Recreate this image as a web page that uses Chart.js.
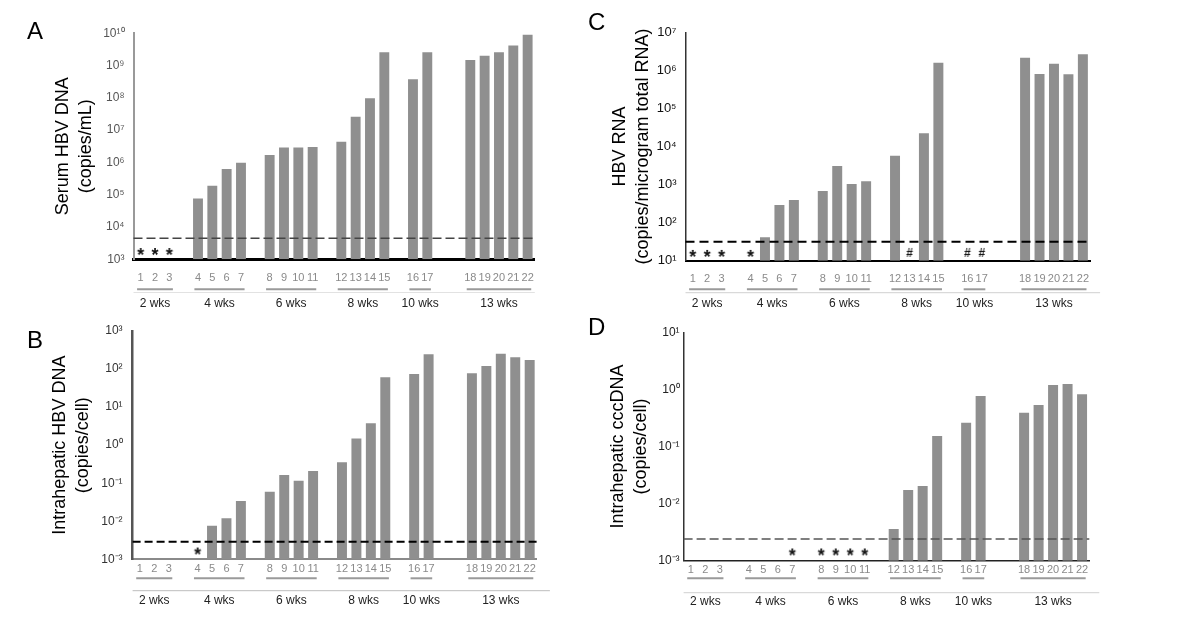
<!DOCTYPE html>
<html lang="en">
<head>
  <meta charset="UTF-8">
  <title>HBV markers by week</title>
  <script src="https://cdn.jsdelivr.net/npm/chart.js"></script>
  <style>
    body {
      margin: 0;
      background: #fff;
      font-family: 'Liberation Sans', Arial, sans-serif;
    }

    #fig {
      position: relative;
      width: 1200px;
      height: 627px;
      overflow: hidden;
    }

    canvas {
      position: absolute;
    }

    .tag {
      position: absolute;
      font-size: 24px;
      line-height: 24px;
      color: #000;
    }
  </style>
</head>
<body>
  <div id="fig">
    <canvas id="chartA" width="590" height="313" style="left:0;top:0"></canvas>
    <canvas id="chartB" width="590" height="314" style="left:0;top:313px"></canvas>
    <canvas id="chartC" width="610" height="313" style="left:590px;top:0"></canvas>
    <canvas id="chartD" width="610" height="314" style="left:590px;top:313px"></canvas>
    <div class="tag" style="left:27px;top:19px">A</div>
    <div class="tag" style="left:27px;top:328px">B</div>
    <div class="tag" style="left:588px;top:10px">C</div>
    <div class="tag" style="left:588px;top:315px">D</div>
  </div>

  <script>
    // x slots: samples 1-22, blank slots separate the weeks
    const slotLabels = ['1', '2', '3', '', '4', '5', '6', '7', '', '8', '9', '10', '11', '',
      '12', '13', '14', '15', '', '16', '17', '', '', '18', '19', '20', '21', '22'];

    const weekLabels = ['2 wks', '4 wks', '6 wks', '8 wks', '10 wks', '13 wks'];
    const weekFirst = ['1', '4', '8', '12', '16', '18'];
    const weekLast = ['3', '7', '11', '15', '17', '22'];

    // values per sample 1..22 (null = not detected)
    const serumDNA = [null, null, null, 7.7e4, 1.9e5, 6.3e5, 9.8e5, 1.7e6, 2.9e6, 2.9e6, 3.0e6,
      4.4e6, 2.6e7, 9.7e7, 2.6e9, 3.75e8, 2.6e9, 1.5e9, 2.0e9, 2.6e9, 4.2e9, 9.0e9];
    const liverDNA = [null, null, null, null, 0.0076, 0.012, 0.034, 0.06, 0.164, 0.116, 0.21,
      0.354, 1.5, 3.75, 61, 74, 244, 77, 120, 253, 204, 173];
    const hbvRNA = [null, null, null, null, 41, 290, 393, 678, 3080, 1035, 1220,
      5730, null, 22200, 1.59e6, null, null, 2.15e6, 8.0e5, 1.5e6, 7.9e5, 2.64e6];
    const cccDNA = [null, null, null, null, null, null, null, null, null, null, null,
      0.0036, 0.0173, 0.0203, 0.153, 0.261, 0.766, 0.391, 0.533, 1.19, 1.24, 0.82];

    // detection limits (dashed lines)
    const lodSerum = 4.5e3;
    const lodLiver = 0.0029;
    const lodRNA = 31.6;
    const lodCcc = 0.0024;

    // marks below the detection limit: * and #
    const starSamplesA = ['1', '2', '3'];
    const starSamplesB = ['4'];
    const starSamplesC = ['1', '2', '3', '4'];
    const hashSamplesC = ['13', '16', '17'];
    const starSamplesD = ['7', '8', '9', '10', '11'];
    const markLevelA = 1.8e3;
    const markLevelB = 1.7e-3;
    const markLevelC = 16;
    const markLevelD = 1.45e-3;

    // y tick values and labels
    const ticksA = [1e3, 1e4, 1e5, 1e6, 1e7, 1e8, 1e9, 1e10];
    const tickLabelsA = ['10³', '10⁴', '10⁵', '10⁶', '10⁷', '10⁸', '10⁹', '10¹⁰'];
    const ticksB = [1e-3, 1e-2, 1e-1, 1, 10, 100, 1000];
    const tickLabelsB = ['10⁻³', '10⁻²', '10⁻¹', '10⁰', '10¹', '10²', '10³'];
    const ticksC = [10, 100, 1e3, 1e4, 1e5, 1e6, 1e7];
    const tickLabelsC = ['10¹', '10²', '10³', '10⁴', '10⁵', '10⁶', '10⁷'];
    const ticksD = [1e-3, 1e-2, 1e-1, 1, 10];
    const tickLabelsD = ['10⁻³', '10⁻²', '10⁻¹', '10⁰', '10¹'];

    const barColor = '#8f8f8f';
    Chart.defaults.font.family = "'Liberation Sans', Arial, sans-serif";

    const toSlots = values => {
      let k = 0;
      return slotLabels.map(l => (l === '' ? null : values[k++]));
    };
    const markSlots = (samples, level) => slotLabels.map(l => (samples.includes(l) ? level : null));

    function glyph(ch, font, size, baseY) {
      const c = document.createElement('canvas');
      c.width = size;
      c.height = size;
      const g = c.getContext('2d');
      g.font = font;
      g.fillStyle = '#111';
      g.textAlign = 'center';
      g.fillText(ch, size / 2, baseY);
      return c;
    }
    const starGlyph = glyph('*', "bold 18px 'Liberation Sans'", 14, 17);
    const hashGlyph = glyph('#', "bold 12px 'Liberation Sans'", 14, 11);

    // dashed limit line + week brackets under the axis
    const weeksPlugin = {
      id: 'weeks',
      afterDatasetsDraw(chart, args, o) {
        const { ctx, chartArea, scales: { y } } = chart;
        const py = y.getPixelForValue(o.lod);
        ctx.save();
        ctx.strokeStyle = o.lodColor;
        ctx.lineWidth = o.lodWidth;
        ctx.setLineDash(o.lodDash);
        ctx.beginPath();
        ctx.moveTo(chartArea.left, py);
        ctx.lineTo(chartArea.right + o.lodExt, py);
        ctx.stroke();
        ctx.restore();
      },
      afterDraw(chart, args, o) {
        const { ctx, chartArea, scales: { x } } = chart;
        const slot = (chartArea.right - chartArea.left) / slotLabels.length;
        ctx.save();
        ctx.strokeStyle = o.lineColor;
        ctx.lineWidth = 1;
        ctx.beginPath();
        ctx.moveTo(chartArea.left, o.lineY);
        ctx.lineTo(chartArea.right + o.lineExt, o.lineY);
        ctx.stroke();

        ctx.font = "12px 'Liberation Sans'";
        ctx.fillStyle = '#222';
        ctx.textAlign = 'center';
        ctx.textBaseline = 'middle';
        weekLabels.forEach((w, i) => {
          const x0 = x.getPixelForValue(slotLabels.indexOf(weekFirst[i])) - slot * 0.25;
          const x1 = x.getPixelForValue(slotLabels.indexOf(weekLast[i])) + slot * 0.25;
          ctx.strokeStyle = '#9a9a9a';
          ctx.lineWidth = 2;
          ctx.beginPath();
          ctx.moveTo(x0, o.segY);
          ctx.lineTo(x1, o.segY);
          ctx.stroke();
          ctx.fillText(w, (x0 + x1) / 2, o.labelY);
        });
        ctx.restore();
      }
    };

    function makePanel(id, p) {
      return new Chart(document.getElementById(id), {
        type: 'bar',
        data: {
          labels: slotLabels,
          datasets: [
            {
              data: toSlots(p.values),
              backgroundColor: barColor,
              barPercentage: 0.69,
              categoryPercentage: 1,
              order: 2
            },
            {
              type: 'line',
              data: markSlots(p.stars, p.markLevel),
              showLine: false,
              pointStyle: starGlyph,
              order: 1
            },
            {
              type: 'line',
              data: markSlots(p.hashes, p.markLevel),
              showLine: false,
              pointStyle: hashGlyph,
              order: 1
            }
          ]
        },
        options: {
          responsive: false,
          animation: false,
          events: [],
          devicePixelRatio: 1,
          layout: { padding: { left: 0, top: p.padTop, right: p.padRight, bottom: 0 } },
          plugins: {
            legend: { display: false },
            tooltip: { enabled: false },
            weeks: p.weeks
          },
          scales: {
            x: {
              z: 1,
              grid: { display: false, drawTicks: false },
              border: { display: true, color: p.baseColor, width: p.baseWidth },
              ticks: {
                autoSkip: false,
                maxRotation: 0,
                padding: p.xPad,
                color: '#8a8a8a',
                font: { size: 11 }
              },
              afterFit: s => { s.height = p.xHeight; }
            },
            y: {
              type: 'logarithmic',
              min: p.ticks[0],
              max: p.ticks[p.ticks.length - 1],
              grid: { display: false, drawTicks: false },
              border: { display: true, color: p.axisColor, width: p.axisWidth },
              afterBuildTicks: s => { s.ticks = p.ticks.map(v => ({ value: v })); },
              ticks: {
                padding: p.yPad,
                color: p.tickColor,
                font: { size: p.tickSize },
                callback: (v, i) => p.tickLabels[i]
              },
              title: {
                display: true,
                text: p.title,
                color: '#000',
                font: { size: 18, lineHeight: 1.25 },
                padding: { top: p.titlePad, bottom: 0 }
              },
              afterFit: s => { s.width = p.yWidth; }
            }
          }
        },
        plugins: [weeksPlugin]
      });
    }

    makePanel('chartA', {
      values: serumDNA, stars: starSamplesA, hashes: [], markLevel: markLevelA,
      ticks: ticksA, tickLabels: tickLabelsA, tickColor: '#555', tickSize: 12,
      title: ['Serum HBV DNA', '(copies/mL)'], titlePad: 52,
      yWidth: 133.5, xHeight: 53.7, padTop: 33.3, padRight: 55.2, xPad: 12, yPad: 9,
      baseColor: '#000', baseWidth: 3, axisColor: '#999', axisWidth: 2,
      weeks: { lod: lodSerum, lodColor: '#444', lodWidth: 1.5, lodDash: [9, 4], lodExt: 0,
        segY: 289.3, lineY: 292.5, lineColor: '#e2e2e2', lineExt: 0, labelY: 303.3 }
    });

    makePanel('chartB', {
      values: liverDNA, stars: starSamplesB, hashes: [], markLevel: markLevelB,
      ticks: ticksB, tickLabels: tickLabelsB, tickColor: '#333', tickSize: 12,
      title: ['Intrahepatic HBV DNA', '(copies/cell)'], titlePad: 49,
      yWidth: 132.6, xHeight: 67.7, padTop: 18, padRight: 53.1, xPad: 3, yPad: 10,
      baseColor: '#8a8a8a', baseWidth: 2, axisColor: '#555', axisWidth: 2.5,
      weeks: { lod: lodLiver, lodColor: '#000', lodWidth: 2, lodDash: [8, 4], lodExt: 0,
        segY: 265.3, lineY: 277.7, lineColor: '#bdbdbd', lineExt: 13, labelY: 288 }
    });

    makePanel('chartC', {
      values: hbvRNA, stars: starSamplesC, hashes: hashSamplesC, markLevel: markLevelC,
      ticks: ticksC, tickLabels: tickLabelsC, tickColor: '#111', tickSize: 13,
      title: ['HBV RNA', '(copies/microgram total RNA)'], titlePad: 18.8,
      yWidth: 95.5, xHeight: 52.3, padTop: 32.3, padRight: 109.9, xPad: 12, yPad: 9,
      baseColor: '#000', baseWidth: 2, axisColor: '#333', axisWidth: 1.5,
      weeks: { lod: lodRNA, lodColor: '#000', lodWidth: 2, lodDash: [9, 5], lodExt: 0,
        segY: 289.3, lineY: 292.7, lineColor: '#d0d0d0', lineExt: 10, labelY: 303.3 }
    });

    makePanel('chartD', {
      values: cccDNA, stars: starSamplesD, hashes: [], markLevel: markLevelD,
      ticks: ticksD, tickLabels: tickLabelsD, tickColor: '#222', tickSize: 12,
      title: ['Intrahepatic cccDNA', '(copies/cell)'], titlePad: 16.8,
      yWidth: 93.6, xHeight: 66.3, padTop: 19.3, padRight: 110.7, xPad: 2.6, yPad: 4,
      baseColor: '#222', baseWidth: 1.5, axisColor: '#333', axisWidth: 1.5,
      weeks: { lod: lodCcc, lodColor: '#555', lodWidth: 1.5, lodDash: [9, 4], lodExt: 0,
        segY: 265.3, lineY: 279.7, lineColor: '#d0d0d0', lineExt: 10, labelY: 288.7 }
    });
  </script>
</body>
</html>
